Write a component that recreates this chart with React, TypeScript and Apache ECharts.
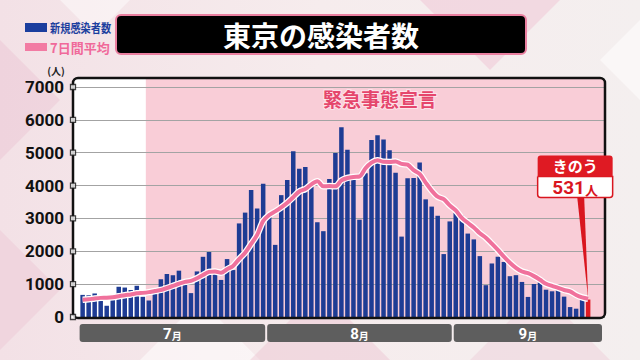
import React, { useEffect, useRef } from "react";
import * as echarts from "echarts";

const monthLabels = ["7", "8", "9"];
const julyCases = [673, 660, 716, 518, 342, 593, 920, 896, 822, 950, 614, 502, 830, 1149, 1308, 1271, 1410, 1008, 727, 1387, 1832, 1979, 1359, 1128, 1763, 1429, 2848, 3177, 3865, 3300, 4058];
const augustCases = [3058, 2195, 3709, 4166, 5042, 4515, 4566, 4066, 2884, 2612, 4200, 4989, 5773, 5094, 4295, 2962, 4377, 5386, 5534, 5405, 5074, 4392, 2447, 4220, 4228, 4704, 3581, 3360, 3081, 1915, 2909];
const septemberCases = [3168, 3099, 2539, 2362, 1853, 968, 1629, 1834, 1675, 1242, 1273, 1067, 611, 1004, 1052, 831, 782, 862, 620, 302, 253, 537, 531];
const julyAvg = [523, 537, 563, 582, 586, 602, 632, 664, 687, 720, 734, 757, 791, 823, 882, 946, 1012, 1068, 1100, 1180, 1278, 1373, 1386, 1346, 1454, 1554, 1763, 1955, 2224, 2501, 2920];
const augustAvg = [3105, 3214, 3337, 3479, 3647, 3820, 3893, 4037, 4135, 3979, 3984, 3976, 4156, 4231, 4264, 4275, 4527, 4697, 4774, 4722, 4719, 4733, 4659, 4637, 4471, 4353, 4092, 3847, 3660, 3584, 3397];
const septemberAvg = [3245, 3016, 2867, 2725, 2549, 2414, 2231, 2041, 1837, 1652, 1496, 1384, 1333, 1244, 1132, 1011, 946, 887, 823, 779, 672, 598, 555];
const yTicks = [0, 1000, 2000, 3000, 4000, 5000, 6000, 7000];
const emergencyStartIndex = 10.5; // between Jul 11 and Jul 12

const X_MIN = -1.6;
const X_MAX = 86.8;
const BLUE = "#1e3c94";
const PINK = "#f0719c";
const RED = "#e01b25";
const JP = "'Noto Sans CJK JP', 'Noto Sans', sans-serif";
const NUM = "Roboto, 'Liberation Sans', sans-serif";

export default function App() {
  const ref = useRef<HTMLDivElement>(null);
  useEffect(() => {
    if (!ref.current) return;
    const chart = echarts.init(ref.current, null, { renderer: "svg" });
    const cases = [...julyCases, ...augustCases, ...septemberCases];
    const avg = [...julyAvg, ...augustAvg, ...septemberAvg];
    const last = cases.length - 1;
    const monthLengths = [julyCases.length, augustCases.length, septemberCases.length];

    chart.setOption({
      animation: false,
      grid: { left: 73, right: 35, top: 87, bottom: 43, containLabel: false, outerBoundsMode: "none" },
      xAxis: {
        type: "value",
        min: X_MIN,
        max: X_MAX,
        axisLine: { show: false },
        axisTick: { show: false },
        axisLabel: { show: false },
        splitLine: { show: false },
      },
      yAxis: {
        type: "value",
        min: 0,
        max: 7000,
        interval: 1000,
        axisLine: { show: false },
        axisTick: { show: false },
        axisLabel: {
          fontSize: 17,
          fontWeight: "bold",
          color: "#111",
          fontFamily: NUM,
          margin: 9,
          formatter: (v: number) => String(v),
        },
        splitLine: { lineStyle: { color: "#a3a3a3", width: 1 } },
      },
      series: [
        {
          type: "bar",
          barWidth: 4.5,
          z: 2,
          itemStyle: { color: BLUE },
          data: cases.map((v, i) => (i === last ? { value: [i, v], itemStyle: { color: RED } } : { value: [i, v] })),
        },
        {
          type: "line",
          z: 3,
          symbol: "none",
          smooth: 0.3,
          lineStyle: { color: "#ffffff", width: 6.5 },
          data: avg.map((v, i) => [i, v]),
        },
        {
          type: "line",
          z: 4,
          symbol: "none",
          smooth: 0.3,
          lineStyle: { color: PINK, width: 4 },
          data: avg.map((v, i) => [i, v]),
        },
        {
          type: "scatter",
          z: 6,
          clip: false,
          symbol: "rect",
          symbolSize: 5,
          itemStyle: { color: "#fff", borderColor: "#111", borderWidth: 1.3 },
          data: yTicks.map((t) => [X_MIN, t]),
        },
      ],
    });

    const px = (x: number, y: number) => chart.convertToPixel({ gridIndex: 0 }, [x, y]) as number[];
    const [left, bottom] = px(X_MIN, 0);
    const [right, top7000] = px(X_MAX, 7000);
    const frameTop = top7000 - 9;
    const emX = px(emergencyStartIndex, 0)[0];
    const tip = px(last, cases[last]);

    const monthGraphics: any[] = [];
    let start = 0;
    monthLengths.forEach((len, m) => {
      const x0 = px(start - 0.5, 0)[0] + (m === 0 ? 0 : 1);
      const x1 = m === monthLengths.length - 1 ? right - 3 : px(start + len - 0.5, 0)[0] - 1;
      monthGraphics.push({
        type: "rect",
        shape: { x: x0, y: bottom + 7, width: x1 - x0, height: 18, r: 3 },
        style: { fill: "#5e5e5e" },
        z: 1,
      });
      monthGraphics.push({
        type: "text",
        x: (x0 + x1) / 2,
        y: bottom + 16.5,
        style: {
          text: `{n|${monthLabels[m]}}{m|月}`,
          align: "center",
          verticalAlign: "middle",
          rich: {
            n: { fontSize: 15, fontWeight: "bold", fill: "#fff", fontFamily: NUM, lineHeight: 16 },
            m: { fontSize: 10, fontWeight: "bold", fill: "#fff", fontFamily: JP, lineHeight: 16, padding: [3, 0, 0, 0] },
          },
        },
        z: 2,
      });
      start += len;
    });

    const boxCx = tip[0] - 13;
    const boxBottom = tip[1] - 102;

    chart.setOption({
      graphic: [
        // page background
        {
          type: "rect",
          shape: { x: 0, y: 0, width: 640, height: 360 },
          style: {
            fill: new echarts.graphic.LinearGradient(0, 0, 1, 0, [
              { offset: 0, color: "#f3e1e6" },
              { offset: 0.5, color: "#f6eced" },
              { offset: 1, color: "#f4efef" },
            ]),
          },
          z: -10,
        },
        { type: "polygon", shape: { points: [[0, 40], [60, 100], [0, 160]] }, style: { fill: "rgba(236,196,210,0.45)" }, z: -9 },
        { type: "polygon", shape: { points: [[0, 230], [60, 290], [0, 350]] }, style: { fill: "rgba(236,196,210,0.4)" }, z: -9 },
        { type: "polygon", shape: { points: [[60, 0], [130, 0], [95, 35]] }, style: { fill: "rgba(255,255,255,0.45)" }, z: -9 },
        { type: "polygon", shape: { points: [[420, 0], [560, 0], [490, 70]] }, style: { fill: "rgba(240,190,208,0.45)" }, z: -9 },
        { type: "polygon", shape: { points: [[140, 360], [200, 300], [260, 360]] }, style: { fill: "rgba(255,255,255,0.5)" }, z: -9 },
        { type: "polygon", shape: { points: [[250, 360], [320, 290], [390, 360]] }, style: { fill: "rgba(236,190,205,0.4)" }, z: -9 },
        { type: "polygon", shape: { points: [[470, 360], [540, 290], [610, 360]] }, style: { fill: "rgba(236,196,210,0.35)" }, z: -9 },
        { type: "polygon", shape: { points: [[600, 60], [640, 20], [640, 100]] }, style: { fill: "rgba(255,255,255,0.5)" }, z: -9 },
        // plot background
        {
          type: "rect",
          shape: { x: left, y: frameTop, width: right - left, height: bottom - frameTop + 1, r: 5 },
          style: { fill: "#ffffff" },
          z: -5,
        },
        {
          type: "rect",
          shape: { x: emX, y: frameTop, width: right - emX, height: bottom - frameTop + 1, r: [0, 5, 5, 0] },
          style: { fill: "#f9cdd7" },
          z: -4,
        },
        // frame
        {
          type: "rect",
          shape: { x: left, y: frameTop, width: right - left, height: bottom - frameTop + 1, r: 5 },
          style: { fill: "none", stroke: "#111", lineWidth: 2.5 },
          z: 5,
        },
        {
          type: "text",
          x: 380,
          y: 98,
          style: {
            text: "緊急事態宣言",
            fontSize: 19,
            fontWeight: "bold",
            fontFamily: JP,
            fill: "#e5466c",
            stroke: "#fde3ea",
            lineWidth: 2,
            align: "center",
            verticalAlign: "middle",
          },
          z: 3,
        },
        // title
        {
          type: "rect",
          shape: { x: 116, y: 15, width: 410, height: 39, r: 5 },
          style: { fill: "#000", stroke: "#ea7fa0", lineWidth: 2 },
          z: 5,
        },
        {
          type: "text",
          x: 321,
          y: 35,
          style: {
            text: "東京の感染者数",
            fontSize: 28,
            fontWeight: "bold",
            fontFamily: JP,
            fill: "#fff",
            align: "center",
            verticalAlign: "middle",
          },
          z: 6,
        },
        // legend
        { type: "rect", shape: { x: 25, y: 23, width: 22, height: 9 }, style: { fill: "#1b3e9e" }, z: 5 },
        {
          type: "text",
          x: 50,
          y: 28,
          scaleX: 0.85,
          style: { text: "新規感染者数", fontSize: 12, fontWeight: "bold", fontFamily: JP, fill: "#1b3e9e", verticalAlign: "middle" },
          z: 5,
        },
        { type: "rect", shape: { x: 25, y: 43, width: 22, height: 8 }, style: { fill: "#f27ba3" }, z: 5 },
        {
          type: "text",
          x: 50,
          y: 47,
          style: { text: "7日間平均", fontSize: 13, fontWeight: "bold", fontFamily: JP, fill: "#f0699a", verticalAlign: "middle" },
          z: 5,
        },
        // unit
        {
          type: "text",
          x: 56,
          y: 70,
          style: { text: "(人)", fontSize: 10, fontWeight: "bold", fontFamily: JP, fill: "#222", align: "center", verticalAlign: "middle", lineHeight: 11 },
          z: 5,
        },
        ...monthGraphics,
        // callout
        {
          type: "polygon",
          shape: { points: [[boxCx + 2, boxBottom - 1], [boxCx + 9, boxBottom - 1], [tip[0], tip[1] - 1]] },
          style: { fill: "#d9161f" },
          z: 7,
        },
        {
          type: "rect",
          shape: { x: boxCx - 37.5, y: boxBottom - 21, width: 75, height: 21, r: [0, 0, 3, 3] },
          style: { fill: "#fff", stroke: "#d9161f", lineWidth: 1.5 },
          z: 8,
        },
        {
          type: "rect",
          shape: { x: boxCx - 37.5, y: boxBottom - 42, width: 75, height: 21, r: [3, 3, 0, 0] },
          style: { fill: "#df1a23" },
          z: 8,
        },
        {
          type: "text",
          x: boxCx,
          y: boxBottom - 32,
          style: { text: "きのう", fontSize: 15, fontWeight: "bold", fontFamily: JP, fill: "#fff", align: "center", verticalAlign: "middle", lineHeight: 16 },
          z: 9,
        },
        {
          type: "text",
          x: boxCx,
          y: boxBottom - 10,
          style: {
            text: `{n|${cases[last]}}{u|人}`,
            align: "center",
            verticalAlign: "middle",
            rich: {
              n: { fontSize: 19, fontWeight: "bold", fill: "#d9161f", fontFamily: NUM, lineHeight: 18 },
              u: { fontSize: 13, fontWeight: "bold", fill: "#d9161f", fontFamily: JP, lineHeight: 18, padding: [3, 0, 0, 0] },
            },
          },
          z: 9,
        },
      ],
    });

    return () => chart.dispose();
  }, []);

  return <div ref={ref} style={{ position: "absolute", left: 0, top: 0, width: 640, height: 360 }} />;
}
